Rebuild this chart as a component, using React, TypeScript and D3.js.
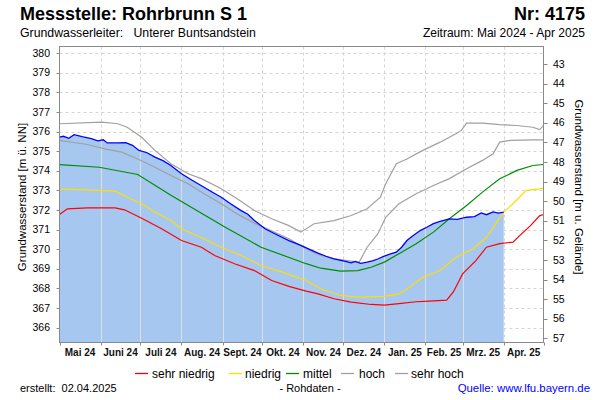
import React from "react";
import * as d3 from "d3";

const monthLabels = ["Mai 24","Juni 24","Juli 24","Aug. 24","Sept. 24","Okt. 24","Nov. 24","Dez. 24","Jan. 25","Feb. 25","Mrz. 25","Apr. 25"];
const monthStarts = ["2024-05-01","2024-06-01","2024-07-01","2024-08-01","2024-09-01","2024-10-01","2024-11-01","2024-12-01","2025-01-01","2025-02-01","2025-03-01","2025-04-01","2025-05-01"];
const levelTicks = [366,367,368,369,370,371,372,373,374,375,376,377,378,379,380];
const depthTicks = [43,44,45,46,47,48,49,50,51,52,53,54,55,56,57];
const groundLevel = 422.45;

type P = [string, number];

const measured: P[] = [["2024-05-01",375.72],["2024-05-04",375.76],["2024-05-08",375.66],["2024-05-12",375.84],["2024-05-18",375.74],["2024-05-25",375.64],["2024-05-30",375.53],["2024-06-03",375.58],["2024-06-06",375.42],["2024-06-14",375.42],["2024-06-20",375.44],["2024-06-25",375.30],["2024-06-30",375.04],["2024-07-06",374.92],["2024-07-12",374.70],["2024-07-18",374.52],["2024-07-24",374.27],["2024-08-01",373.85],["2024-08-09",373.52],["2024-08-18",373.16],["2024-08-24",372.92],["2024-08-31",372.65],["2024-09-07",372.32],["2024-09-15",371.97],["2024-09-20",371.78],["2024-09-25",371.46],["2024-10-03",371.04],["2024-10-10",370.80],["2024-10-21",370.44],["2024-10-30",370.19],["2024-11-06",369.98],["2024-11-12",369.80],["2024-11-18",369.64],["2024-11-24",369.51],["2024-12-01",369.40],["2024-12-07",369.30],["2024-12-10",369.38],["2024-12-14",369.28],["2024-12-19",369.34],["2024-12-23",369.40],["2024-12-27",369.50],["2024-12-31",369.62],["2025-01-05",369.75],["2025-01-10",369.85],["2025-01-14",370.10],["2025-01-18",370.44],["2025-01-22",370.66],["2025-01-28",370.95],["2025-02-02",371.12],["2025-02-07",371.30],["2025-02-12",371.42],["2025-02-19",371.55],["2025-02-25",371.52],["2025-03-04",371.63],["2025-03-10",371.66],["2025-03-15",371.85],["2025-03-19",371.76],["2025-03-24",371.90],["2025-03-28",371.84],["2025-04-01",371.89]];

const sehrHoch: P[] = [["2024-05-01",376.40],["2024-06-02",376.48],["2024-06-14",376.40],["2024-06-21",376.22],["2024-07-02",375.71],["2024-07-12",375.04],["2024-07-24",374.36],["2024-08-06",373.85],["2024-08-16",373.60],["2024-08-31",373.08],["2024-09-12",372.57],["2024-09-25",371.97],["2024-10-08",371.55],["2024-10-21",371.20],["2024-10-30",370.87],["2024-11-09",371.30],["2024-11-24",371.46],["2024-12-07",371.72],["2024-12-19",372.06],["2024-12-29",372.65],["2025-01-02",373.34],["2025-01-10",374.36],["2025-01-18",374.60],["2025-01-30",375.04],["2025-02-12",375.46],["2025-02-24",375.89],["2025-02-28",376.06],["2025-03-04",376.43],["2025-03-16",376.43],["2025-03-29",376.35],["2025-04-11",376.31],["2025-04-23",376.22],["2025-04-28",376.10],["2025-05-01",376.30]];

const hoch: P[] = [["2024-05-01",375.55],["2024-05-22",375.34],["2024-06-04",375.12],["2024-06-17",374.95],["2024-06-29",374.60],["2024-07-12",374.18],["2024-07-24",373.76],["2024-08-06",373.34],["2024-08-18",372.83],["2024-08-31",372.32],["2024-09-12",371.80],["2024-09-25",371.33],["2024-10-21",370.53],["2024-11-03",370.02],["2024-11-12",369.73],["2024-11-24",369.51],["2024-12-07",369.39],["2024-12-13",369.34],["2024-12-19",370.10],["2024-12-27",370.78],["2025-01-02",371.63],["2025-01-12",372.32],["2025-01-25",372.83],["2025-02-07",373.25],["2025-02-19",373.60],["2025-03-04",374.10],["2025-03-16",374.53],["2025-03-24",374.87],["2025-03-29",375.46],["2025-04-06",375.55],["2025-04-23",375.58],["2025-05-01",375.58]];

const mittel: P[] = [["2024-05-01",374.31],["2024-05-31",374.18],["2024-06-29",373.81],["2024-07-24",372.75],["2024-09-03",371.12],["2024-09-30",370.10],["2024-11-03",369.26],["2024-11-14",369.03],["2024-11-29",368.88],["2024-12-12",368.91],["2024-12-22",369.08],["2025-01-01",369.34],["2025-01-12",369.77],["2025-01-25",370.28],["2025-02-07",370.87],["2025-02-19",371.55],["2025-03-04",372.23],["2025-03-16",372.91],["2025-03-29",373.59],["2025-04-11",374.02],["2025-04-23",374.27],["2025-05-01",374.32]];

const niedrig: P[] = [["2024-05-01",373.08],["2024-05-22",373.03],["2024-06-12",372.96],["2024-06-21",372.65],["2024-07-02",372.32],["2024-07-12",371.90],["2024-07-24",371.46],["2024-08-01",371.04],["2024-08-18",370.53],["2024-08-31",370.10],["2024-09-15",369.68],["2024-09-30",369.17],["2024-10-16",368.83],["2024-11-03",368.40],["2024-11-14",367.98],["2024-11-29",367.64],["2024-12-12",367.55],["2025-01-01",367.59],["2025-01-12",367.72],["2025-01-20",368.06],["2025-01-30",368.57],["2025-02-12",368.91],["2025-02-24",369.59],["2025-03-09",370.02],["2025-03-19",370.61],["2025-04-01",371.89],["2025-04-08",372.32],["2025-04-18",373.00],["2025-04-28",373.08],["2025-05-01",373.13]];

const sehrNiedrig: P[] = [["2024-05-01",371.77],["2024-05-07",372.06],["2024-05-22",372.11],["2024-06-12",372.11],["2024-06-19",372.01],["2024-07-02",371.58],["2024-07-17",371.04],["2024-08-01",370.44],["2024-08-16",370.10],["2024-08-26",369.68],["2024-09-10",369.26],["2024-09-25",368.91],["2024-10-08",368.40],["2024-10-21",368.10],["2024-11-03",367.86],["2024-11-12",367.72],["2024-11-24",367.47],["2024-12-07",367.30],["2024-12-22",367.18],["2025-01-01",367.15],["2025-01-12",367.22],["2025-01-25",367.32],["2025-02-04",367.35],["2025-02-17",367.40],["2025-02-22",367.82],["2025-03-01",368.74],["2025-03-11",369.42],["2025-03-19",370.10],["2025-03-29",370.28],["2025-04-08",370.36],["2025-04-13",370.69],["2025-04-21",371.19],["2025-04-28",371.70],["2025-05-01",371.77]];

const legendItems = [
  { label: "sehr niedrig", color: "#ff0000" },
  { label: "niedrig", color: "#ffdd00" },
  { label: "mittel", color: "#008c00" },
  { label: "hoch", color: "#a0a0a0" },
  { label: "sehr hoch", color: "#a0a0a0" },
];
const legendLineX = [135, 229, 286, 341, 395];
const legendTextX = [152, 245, 303, 359, 411];

const FONT = "'Liberation Sans', Arial, Helvetica, sans-serif";
const parse = d3.utcParse("%Y-%m-%d");

export default function App() {
  const x0 = 59.5, x1 = 543.5, yTop = 46.5, yBot = 342.5;
  const x = d3.scaleUtc().domain([parse(monthStarts[0])!, parse(monthStarts[12])!]).range([x0, x1]);
  const y = d3.scaleLinear().domain([365.24, 380.34]).range([yBot, yTop]);
  const yDepth = d3.scaleLinear().domain([groundLevel - 365.24, groundLevel - 380.34]).range([yBot, yTop]);

  const line = d3.line<P>().x(d => x(parse(d[0])!)).y(d => y(d[1]));
  const area = d3.area<P>().x(d => x(parse(d[0])!)).y0(yBot).y1(d => y(d[1]));
  const areaPath = area(measured) || "";
  const monthDates = monthStarts.map(s => parse(s)!);
  const gridColor = "#d4d4d4";
  const axisColor = "#8a8a8a";

  return (
    <svg width={600} height={400} style={{ display: "block", position: "absolute", left: 0, top: 0, fontFamily: FONT }}>
      <rect x={0} y={0} width={600} height={400} fill="#ffffff" />
      <defs>
        <clipPath id="fillclip"><path d={areaPath} /></clipPath>
      </defs>
      {/* header */}
      <text x={20} y={20} fontSize={18} fontWeight="bold" fill="#000">Messstelle: Rohrbrunn S 1</text>
      <text x={585} y={20} fontSize={18} fontWeight="bold" fill="#000" textAnchor="end">Nr: 4175</text>
      <text x={20} y={37} fontSize={12.3} fill="#000" style={{ whiteSpace: "pre" }}>{"Grundwasserleiter:   Unterer Buntsandstein"}</text>
      <text x={585} y={37} fontSize={12} fill="#000" textAnchor="end">Zeitraum: Mai 2024 - Apr 2025</text>

      {/* grid */}
      {levelTicks.map(t => (
        <line key={"h" + t} x1={x0} x2={x1} y1={Math.round(y(t)) + 0.5} y2={Math.round(y(t)) + 0.5} stroke={gridColor} strokeDasharray="3,3" />
      ))}
      {monthDates.slice(1, 12).map((d, i) => (
        <line key={"v" + i} x1={Math.round(x(d)) + 0.5} x2={Math.round(x(d)) + 0.5} y1={yTop} y2={yBot} stroke={gridColor} strokeDasharray="3,3" />
      ))}

      {/* measured fill */}
      <path d={areaPath} fill="#a6c8f0" />
      <g clipPath="url(#fillclip)">
        {monthDates.slice(1, 12).map((d, i) => (
          <line key={"vs" + i} x1={Math.round(x(d)) + 0.5} x2={Math.round(x(d)) + 0.5} y1={yTop} y2={yBot} stroke="#dedede" strokeWidth={1} />
        ))}
      </g>

      {/* statistic lines */}
      <path d={line(sehrNiedrig) || ""} fill="none" stroke="#ff0000" strokeWidth={1.2} />
      <path d={line(niedrig) || ""} fill="none" stroke="#ffdd00" strokeWidth={1.2} />
      <path d={line(mittel) || ""} fill="none" stroke="#008c00" strokeWidth={1.2} />
      <path d={line(hoch) || ""} fill="none" stroke="#a0a0a0" strokeWidth={1.2} />
      <path d={line(sehrHoch) || ""} fill="none" stroke="#a0a0a0" strokeWidth={1.2} />
      <path d={line(measured) || ""} fill="none" stroke="#0000ff" strokeWidth={1.3} />

      {/* frame */}
      <rect x={x0} y={yTop} width={x1 - x0} height={yBot - yTop} fill="none" stroke={axisColor} strokeWidth={1} />

      {/* left axis */}
      {levelTicks.map(t => (
        <g key={"lt" + t}>
          <line x1={x0 - 3} x2={x0} y1={Math.round(y(t)) + 0.5} y2={Math.round(y(t)) + 0.5} stroke={axisColor} />
          <text x={50} y={y(t)} dy="0.35em" fontSize={10.5} textAnchor="end" fill="#000">{t}</text>
        </g>
      ))}
      {/* right axis */}
      {depthTicks.map(t => (
        <g key={"rt" + t}>
          <line x1={x1} x2={x1 + 4} y1={Math.round(yDepth(t)) + 0.5} y2={Math.round(yDepth(t)) + 0.5} stroke={axisColor} />
          <text x={553} y={yDepth(t)} dy="0.35em" fontSize={10.5} textAnchor="start" fill="#000">{t}</text>
        </g>
      ))}
      {/* bottom axis */}
      {monthDates.map((d, i) => (
        <line key={"bt" + i} x1={Math.round(x(d)) + 0.5} x2={Math.round(x(d)) + 0.5} y1={yBot} y2={yBot + 3} stroke={axisColor} />
      ))}
      {monthLabels.map((m, i) => {
        const cx = (x(monthDates[i]) + x(monthDates[i + 1])) / 2;
        return <text key={"ml" + i} x={cx} y={356} fontSize={10} fontWeight="bold" textAnchor="middle" fill="#111">{m}</text>;
      })}

      {/* axis titles */}
      <text transform="translate(22,197) rotate(-90)" fontSize={11.5} textAnchor="middle" dominantBaseline="central" fill="#000">Grundwasserstand [m ü. NN]</text>
      <text transform="translate(579,187) rotate(90)" fontSize={11.5} textAnchor="middle" dominantBaseline="central" fill="#000">Grundwasserstand [m u. Gelände]</text>

      {/* legend */}
      {legendItems.map((it, i) => (
        <g key={"lg" + i}>
          <line x1={legendLineX[i]} x2={legendLineX[i] + 13} y1={373.5} y2={373.5} stroke={it.color} strokeWidth={1.3} />
          <text x={legendTextX[i]} y={377.5} fontSize={12} fill="#000">{it.label}</text>
        </g>
      ))}

      {/* footer */}
      <text x={20} y={392} fontSize={11} fill="#000" style={{ whiteSpace: "pre" }}>{"erstellt:  02.04.2025"}</text>
      <text x={310} y={392} fontSize={11} fill="#000" textAnchor="middle">- Rohdaten -</text>
      <text x={590} y={392} fontSize={11.4} fill="#0000ff" textAnchor="end">Quelle: www.lfu.bayern.de</text>
    </svg>
  );
}
